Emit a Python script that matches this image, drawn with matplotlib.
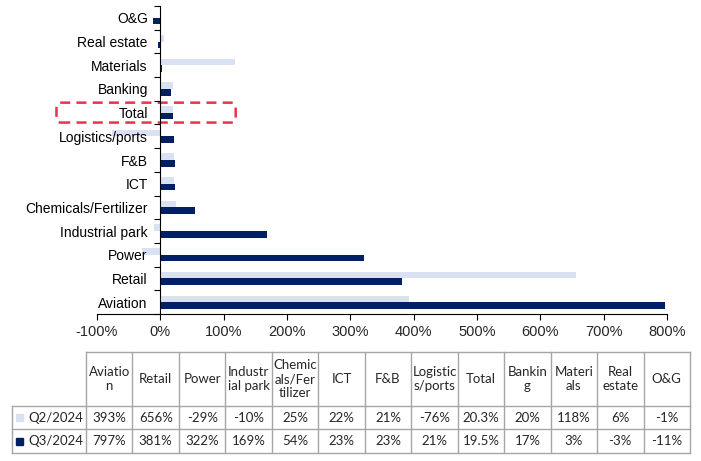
import matplotlib
matplotlib.use("Agg")
import matplotlib.pyplot as plt
from matplotlib.patches import FancyBboxPatch, Rectangle
import numpy as np

# categories from bottom to top of the chart (same order as table columns)
categories = ["Aviation", "Retail", "Power", "Industrial park", "Chemicals/Fertilizer",
              "ICT", "F&B", "Logistics/ports", "Total", "Banking", "Materials",
              "Real estate", "O&G"]
q2_2024 = [393, 656, -29, -10, 25, 22, 21, -76, 20.3, 20, 118, 6, -1]
q3_2024 = [797, 381, 322, 169, 54, 23, 23, 21, 19.5, 17, 3, -3, -11]
q2_text = ["393%", "656%", "-29%", "-10%", "25%", "22%", "21%", "-76%", "20.3%", "20%", "118%", "6%", "-1%"]
q3_text = ["797%", "381%", "322%", "169%", "54%", "23%", "23%", "21%", "19.5%", "17%", "3%", "-3%", "-11%"]
table_headers = ["Aviatio\nn", "Retail", "Power", "Industr\nial park", "Chemic\nals/Fer\ntilizer",
                 "ICT", "F&B", "Logistic\ns/ports", "Total", "Bankin\ng", "Materi\nals",
                 "Real\nestate", "O&G"]
series_names = ["Q2/2024", "Q3/2024"]
x_ticks = [-100, 0, 100, 200, 300, 400, 500, 600, 700, 800]

light = "#D9E1F2"
navy = "#002060"
txt = "#262626"

plt.rcParams["font.family"] = ["Liberation Sans", "DejaVu Sans"]

W, H = 701, 461
fig = plt.figure(figsize=(W / 100, H / 100), dpi=100)

# ---- bar chart ----
ax = fig.add_axes([97 / W, 1 - 314 / H, 570 / W, 308 / H])
y = np.arange(len(categories))
bh = 0.28
ax.barh(y + bh / 2, q2_2024, height=bh, color=light)
ax.barh(y - bh / 2, q3_2024, height=bh, color=navy)

ax.set_xlim(-100, 800)
ax.set_ylim(-0.5, len(categories) - 0.5)
ax.set_xticks(x_ticks)
ax.set_xticklabels([f"{v}%" for v in x_ticks], fontsize=10.5, color=txt)
ax.set_yticks(y)
ax.set_yticklabels(categories, fontsize=10, color=txt)
ax.set_yticks(np.arange(-0.5, len(categories)), minor=True)
ax.tick_params(axis="y", which="major", length=0, pad=9)
ax.tick_params(axis="y", which="minor", length=4, direction="out", color="black", width=0.8)
ax.tick_params(axis="x", length=4, direction="out", color="black", width=0.8, pad=4)
for s in ["top", "right"]:
    ax.spines[s].set_visible(False)
ax.spines["left"].set_position(("data", 0))
ax.spines["left"].set_color("black")
ax.spines["bottom"].set_color("black")
ax.spines["left"].set_linewidth(0.8)
ax.spines["bottom"].set_linewidth(0.8)

# red dashed box around the Total label
ti = categories.index("Total")
box = FancyBboxPatch((-164, ti - 0.42), 283, 0.84,
                     boxstyle="round,pad=0,rounding_size=6",
                     mutation_aspect=0.035,
                     fill=False, edgecolor="#E8334A", linestyle=(0, (4, 2.5)),
                     linewidth=1.8, clip_on=False)
ax.add_patch(box)

# ---- data table ----
tax = fig.add_axes([0, 0, 1, 1])
tax.set_xlim(0, W)
tax.set_ylim(H, 0)
tax.axis("off")

left, lab_right, right = 12, 86, 690
top, hdr_bot, r1_bot, r2_bot = 352, 406, 429, 453
ncol = len(categories)
cw = (right - lab_right) / ncol
grid = "#A6A6A6"
tfont = "Lato"

# horizontal lines
tax.plot([lab_right, right], [top, top], color=grid, lw=1)
for yy in [hdr_bot, r1_bot, r2_bot]:
    tax.plot([left, right], [yy, yy], color=grid, lw=1)
# vertical lines
tax.plot([left, left], [hdr_bot, r2_bot], color=grid, lw=1)
for i in range(ncol + 1):
    xx = lab_right + i * cw
    tax.plot([xx, xx], [top, r2_bot], color=grid, lw=1)

for i in range(ncol):
    cx = lab_right + (i + 0.5) * cw
    tax.text(cx, (top + hdr_bot) / 2, table_headers[i], ha="center", va="center",
             fontsize=9.5, color=txt, family=tfont, linespacing=1.2)
    tax.text(cx, (hdr_bot + r1_bot) / 2, q2_text[i], ha="center", va="center",
             fontsize=9.5, color=txt, family=tfont)
    tax.text(cx, (r1_bot + r2_bot) / 2, q3_text[i], ha="center", va="center",
             fontsize=9.5, color=txt, family=tfont)

for k, (name, col) in enumerate(zip(series_names, [light, navy])):
    yc = [(hdr_bot + r1_bot) / 2, (r1_bot + r2_bot) / 2][k]
    tax.add_patch(Rectangle((16, yc - 3.5), 7, 7, color=col))
    tax.text(28, yc, name, ha="left", va="center", fontsize=9.5, color=txt, family=tfont)

fig.savefig("out.png", dpi=100)
